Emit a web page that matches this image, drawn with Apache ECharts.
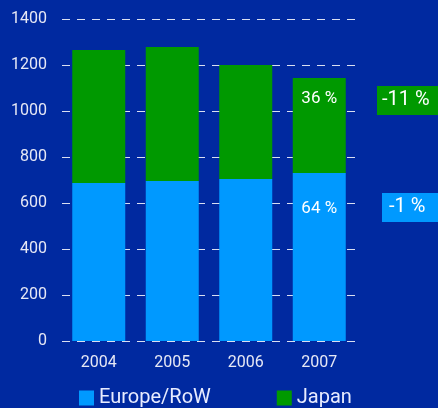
<!DOCTYPE html>
<html>
<head>
<meta charset="utf-8">
<script src="https://cdn.jsdelivr.net/npm/echarts@6/dist/echarts.min.js"></script>
<style>
  html, body { margin: 0; padding: 0; background: #0029a0; }
  #chart { width: 438px; height: 408px; }
</style>
</head>
<body>
<div id="chart"></div>
<script>
const years = ['2004', '2005', '2006', '2007'];
const europe = [687, 696, 704, 730];
const japan = [578, 582, 496, 413];
const europeShare = ['', '', '', '64 %'];
const japanShare = ['', '', '', '36 %'];

const chart = echarts.init(document.getElementById('chart'));
const font = 'Roboto, sans-serif';

const option = {
    backgroundColor: '#0029a0',
    animation: false,
    textStyle: { fontFamily: font },
    grid: { left: 62, right: 82, top: 19, bottom: 67 },
    legend: {
        top: 383,
        left: 74,
        itemWidth: 15,
        itemHeight: 15,
        itemGap: 66,
        icon: 'rect',
        textStyle: { color: '#e8ecff', fontSize: 20, fontFamily: font },
        data: ['Europe/RoW', 'Japan']
    },
    xAxis: {
        type: 'category',
        data: years,
        axisLine: { show: false },
        axisTick: { show: false },
        axisLabel: { color: '#e6e8f5', fontSize: 16, margin: 14, fontFamily: font }
    },
    yAxis: {
        type: 'value',
        min: 0,
        max: 1400,
        interval: 200,
        axisLine: { show: false },
        axisTick: { show: false },
        axisLabel: { color: '#e6e8f5', fontSize: 16, margin: 15, fontFamily: font, formatter: v => String(v) },
        splitLine: { lineStyle: { color: 'rgba(255,255,255,0.85)', type: [8, 7], width: 1 } }
    },
    series: [
        {
            name: 'Europe/RoW',
            type: 'bar',
            stack: 'total',
            barWidth: 53,
            itemStyle: { color: '#0099ff' },
            data: europe,
            label: {
                show: true,
                position: 'insideTop',
                distance: 27,
                color: '#ffffff',
                fontSize: 17,
                formatter: p => europeShare[p.dataIndex]
            }
        },
        {
            name: 'Japan',
            type: 'bar',
            stack: 'total',
            barWidth: 53,
            itemStyle: { color: '#009900' },
            data: japan,
            label: {
                show: true,
                position: 'insideTop',
                distance: 12,
                color: '#ffffff',
                fontSize: 17,
                formatter: p => japanShare[p.dataIndex]
            }
        }
    ],
    graphic: [
        {
            type: 'rect',
            left: 377, top: 86,
            shape: { width: 61, height: 29 },
            style: { fill: '#009900' }
        },
        {
            type: 'text',
            left: 382, top: 90,
            style: { text: '-11 %', fill: '#ffffff', font: '20px Roboto, sans-serif' }
        },
        {
            type: 'rect',
            left: 382, top: 193,
            shape: { width: 56, height: 29 },
            style: { fill: '#0099ff' }
        },
        {
            type: 'text',
            left: 389, top: 197,
            style: { text: '-1 %', fill: '#ffffff', font: '20px Roboto, sans-serif' }
        }
    ]
};
chart.setOption(option);
</script>
</body>
</html>
